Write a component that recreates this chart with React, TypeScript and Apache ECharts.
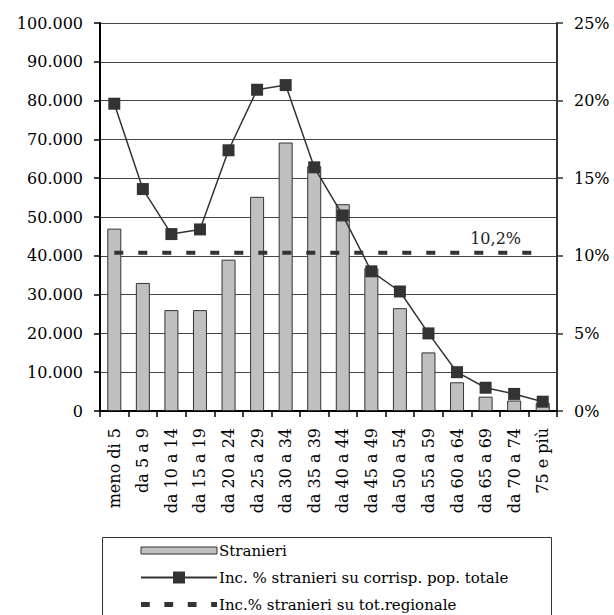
import React, { useEffect, useRef } from "react";
import * as echarts from "echarts";

const categories = [
  "meno di 5", "da 5 a 9", "da 10 a 14", "da 15 a 19", "da 20 a 24", "da 25 a 29",
  "da 30 a 34", "da 35 a 39", "da 40 a 44", "da 45 a 49", "da 50 a 54", "da 55 a 59",
  "da 60 a 64", "da 65 a 69", "da 70 a 74", "75 e più",
];
const stranieri = [47000, 33000, 26000, 26000, 39000, 55200, 69200, 63100, 53300, 36800, 26500, 15100, 7400, 3700, 2700, 2100];
const incidenza = [19.8, 14.3, 11.4, 11.7, 16.8, 20.7, 21.0, 15.7, 12.6, 9.0, 7.7, 5.0, 2.5, 1.5, 1.1, 0.6];
const regionale = 10.2;
const regionaleLabel = "10,2%";
const leftTicks = { min: 0, max: 100000, interval: 10000 };
const rightTicks = { min: 0, max: 25, interval: 5 };
const seriesNames = [
  "Stranieri",
  "Inc. % stranieri su corrisp. pop. totale",
  "Inc.% stranieri su tot.regionale",
];

const FONT = "DejaVu Serif";

function fmtThousands(v: number): string {
  return String(v).replace(/\B(?=(\d{3})+(?!\d))/g, ".");
}

export default function App() {
  const ref = useRef<HTMLDivElement>(null);
  useEffect(() => {
    if (!ref.current) return;
    const chart = echarts.init(ref.current, undefined, { renderer: "svg" });
    const regData = categories.map((_, i) =>
      i === 13
        ? {
            value: regionale,
            label: {
              show: true,
              formatter: regionaleLabel,
              position: "top",
              distance: 6,
              offset: [10, 0],
              fontFamily: FONT,
              fontSize: 16,
              color: "#222",
            },
          }
        : regionale
    );
    chart.setOption({
      animation: false,
      textStyle: { fontFamily: FONT },
      grid: { left: 100, right: 57, top: 23, bottom: 204, containLabel: false },
      legend: {
        orient: "vertical",
        left: 140,
        top: 543,
        padding: 0,
        itemWidth: 76,
        itemHeight: 15,
        itemGap: 12,
        textStyle: { fontFamily: FONT, fontSize: 15, color: "#000", lineHeight: 15, padding: [0, 0, 0, -3] },
        data: [
          {
            name: seriesNames[0],
            icon: "path://M0,0 H76 V7 H0 Z",
            itemStyle: { color: "#c0c0c0", borderColor: "#333", borderWidth: 1 },
          },
          { name: seriesNames[1] },
          {
            name: seriesNames[2],
            icon: "path://M0,0h9v5h-9z M24,0h9v5h-9z M48,0h9v5h-9z M72,0h6v5h-6z",
            itemStyle: { color: "#333", borderWidth: 0, opacity: 1 },
          },
        ],
      },
      graphic: [
        {
          type: "rect",
          shape: { x: 102.5, y: 537.5, width: 449, height: 120 },
          style: { fill: "none", stroke: "#333", lineWidth: 1 },
          silent: true,
        },
      ],
      xAxis: {
        type: "category",
        data: categories,
        axisLine: { lineStyle: { color: "#000", width: 2 } },
        axisTick: { show: true, length: 6, lineStyle: { color: "#000", width: 1.5 } },
        axisLabel: {
          rotate: 90,
          interval: 0,
          margin: 17,
          fontFamily: FONT,
          fontSize: 16,
          color: "#000",
        },
      },
      yAxis: [
        {
          type: "value",
          min: leftTicks.min,
          max: leftTicks.max,
          interval: leftTicks.interval,
          axisLine: { show: true, lineStyle: { color: "#000", width: 2 } },
          axisTick: { show: true, length: 6, lineStyle: { color: "#000", width: 1.5 } },
          axisLabel: {
            margin: 17,
            fontFamily: FONT,
            fontSize: 16,
            color: "#000",
            formatter: (v: number) => fmtThousands(v),
          },
          splitLine: { show: true, lineStyle: { color: "#444", width: 1 } },
        },
        {
          type: "value",
          min: rightTicks.min,
          max: rightTicks.max,
          interval: rightTicks.interval,
          position: "right",
          axisLine: { show: true, lineStyle: { color: "#333", width: 2 } },
          axisTick: { show: true, length: 6, lineStyle: { color: "#333", width: 1.5 } },
          axisLabel: {
            margin: 17,
            fontFamily: FONT,
            fontSize: 16,
            color: "#000",
            formatter: (v: number) => v + "%",
          },
          splitLine: { show: false },
        },
      ],
      series: [
        {
          name: seriesNames[0],
          type: "bar",
          data: stranieri,
          barWidth: 14,
          itemStyle: { color: "#c0c0c0", borderColor: "#333", borderWidth: 1 },
          z: 2,
        },
        {
          name: seriesNames[2],
          type: "line",
          yAxisIndex: 1,
          data: regData,
          symbol: "circle",
          symbolSize: 1,
          showSymbol: true,
          showAllSymbol: true,
          lineStyle: { color: "#333", width: 4, type: [9, 15] },
          itemStyle: { color: "rgba(0,0,0,0)", borderWidth: 0 },
          z: 3,
        },
        {
          name: seriesNames[1],
          type: "line",
          yAxisIndex: 1,
          data: incidenza,
          symbol: "rect",
          symbolSize: 12,
          lineStyle: { color: "#333", width: 1.5 },
          itemStyle: { color: "#333" },
          z: 4,
        },
      ],
    });
    return () => chart.dispose();
  }, []);
  return (
    <div
      ref={ref}
      style={{ position: "absolute", left: 0, top: 0, width: 614, height: 615, background: "#fff" }}
    />
  );
}
